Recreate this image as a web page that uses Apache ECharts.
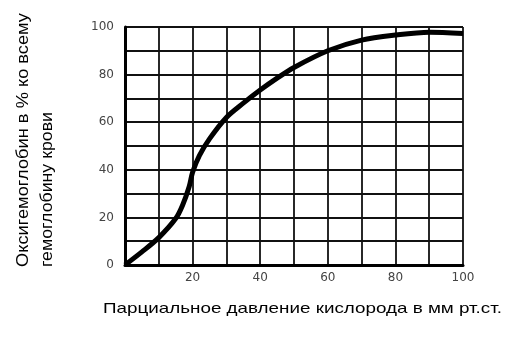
<!DOCTYPE html>
<html style="height: 100%">
<head>
<meta charset="utf-8">
<script src="https://cdn.jsdelivr.net/npm/echarts@6/dist/echarts.min.js"></script>
</head>
<body style="height: 100%; margin: 0; background: #fff">
<div id="container" style="width: 530px; height: 341px"></div>
<script type="text/javascript">
// partial pressure O2 (mm Hg) vs saturation (%)
var pressure = [0, 5, 10, 15, 17, 19, 20, 22, 25, 30, 35, 40, 45, 50, 60, 70, 80, 90, 100];
var saturation = [0, 5.5, 11.5, 19.5, 25, 33, 39, 46, 53, 62, 68, 73.5, 78.5, 83, 90, 94.5, 96.6, 97.8, 97.3];
var xTitle = 'Парциальное давление кислорода в мм рт.ст.';
var yTitle1 = 'Оксигемоглобин в % ко всему';
var yTitle2 = 'гемоглобину крови';

var xFont = '15px "Liberation Sans", Arial, sans-serif';
var yFont = '17px "Liberation Sans", Arial, sans-serif';
function stretch(txt, font, target) {
    var c = document.createElement('canvas').getContext('2d');
    c.font = font;
    return target / c.measureText(txt).width;
}

var data = [];
for (var k = 0; k < pressure.length; k++) {
    data.push([pressure[k], saturation[k]]);
}

var dom = document.getElementById('container');
var myChart = echarts.init(dom, null, {renderer: 'canvas'});
var labelStyle = {color: '#444', fontFamily: 'DejaVu Sans', fontSize: 12};
var gridLine = {show: true, lineStyle: {color: '#111', width: 1.8}};

var option = {
    animation: false,
    grid: {left: 125, right: 67, top: 27, bottom: 76},
    xAxis: {
        type: 'value', min: 0, max: 100, interval: 10,
        axisLine: {show: true, lineStyle: {color: '#000', width: 3}},
        axisTick: {show: false},
        splitLine: gridLine,
        axisLabel: Object.assign({
            margin: 7,
            formatter: function (v) { return (v % 20 === 0 && v !== 0) ? v : ''; }
        }, labelStyle)
    },
    yAxis: {
        type: 'value', min: 0, max: 100, interval: 10,
        axisLine: {show: true, lineStyle: {color: '#000', width: 3}},
        axisTick: {show: false},
        splitLine: gridLine,
        axisLabel: Object.assign({
            margin: 11,
            formatter: function (v) { return v % 20 === 0 ? v : ''; }
        }, labelStyle)
    },
    graphic: [
        {
            type: 'text', x: 103, y: 309,
            scaleX: stretch(xTitle, xFont, 399),
            style: {text: xTitle, font: xFont, fill: '#000', align: 'left', verticalAlign: 'middle'}
        },
        {
            type: 'text', x: 23, y: 267, rotation: Math.PI / 2,
            scaleX: stretch(yTitle1, yFont, 254),
            style: {text: yTitle1, font: yFont, fill: '#000', align: 'left', verticalAlign: 'middle'}
        },
        {
            type: 'text', x: 47, y: 267, rotation: Math.PI / 2,
            scaleX: stretch(yTitle2, yFont, 155),
            style: {text: yTitle2, font: yFont, fill: '#000', align: 'left', verticalAlign: 'middle'}
        }
    ],
    series: [{
        type: 'line',
        data: data,
        smooth: 0.3,
        symbol: 'none',
        lineStyle: {color: '#000', width: 5}
    }]
};
myChart.setOption(option);
</script>
</body>
</html>
